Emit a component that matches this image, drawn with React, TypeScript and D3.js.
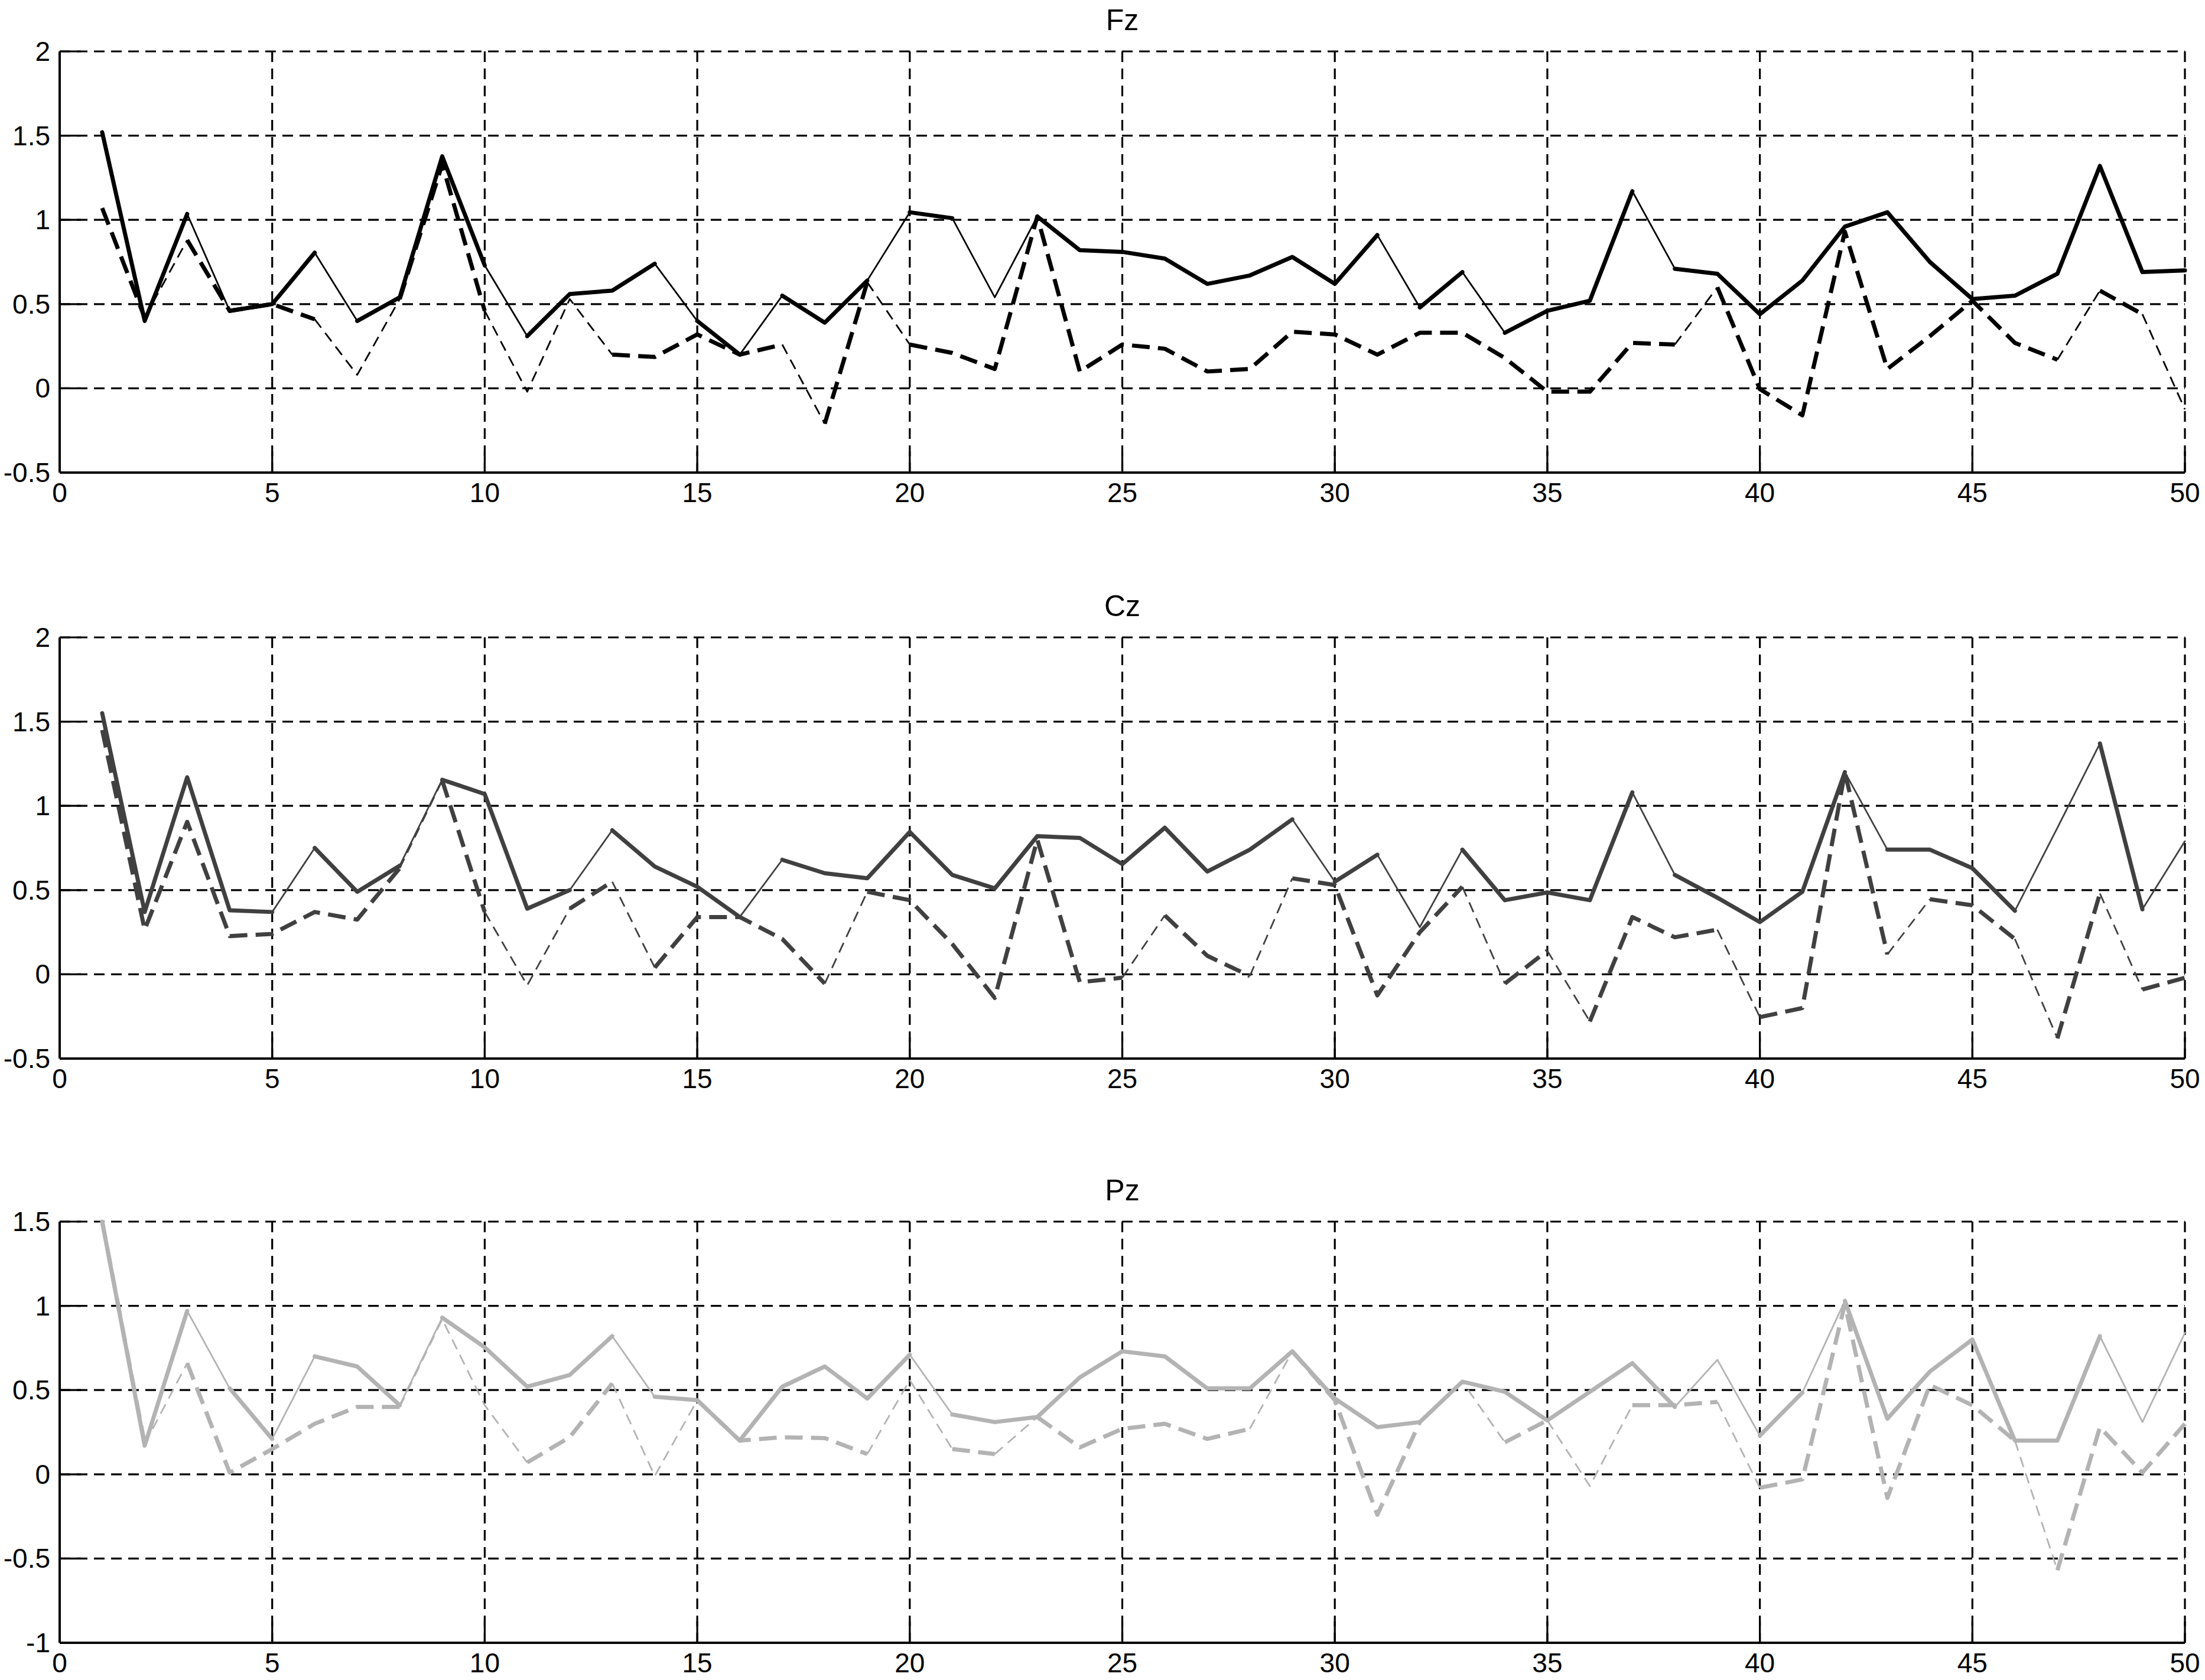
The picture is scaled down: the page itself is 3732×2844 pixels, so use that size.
import React from "react";
import * as d3 from "d3";

// trial numbers on the x axis
const trials = [
  1, 2, 3, 4, 5, 6, 7, 8, 9, 10, 11, 12, 13, 14, 15, 16, 17, 18, 19, 20, 21, 22, 23, 24, 25,
  26, 27, 28, 29, 30, 31, 32, 33, 34, 35, 36, 37, 38, 39, 40, 41, 42, 43, 44, 45, 46, 47, 48, 49, 50,
];

const xTicks = [0, 5, 10, 15, 20, 25, 30, 35, 40, 45, 50];
const yTicksFC = [-0.5, 0, 0.5, 1, 1.5, 2];
const yTicksP = [-1, -0.5, 0, 0.5, 1, 1.5];

// Fz
const fzSolid = [
  1.52, 0.4, 1.035, 0.46, 0.5, 0.805, 0.4, 0.54, 1.377, 0.73, 0.31, 0.56, 0.58, 0.74, 0.4, 0.2, 0.55,
  0.39, 0.64, 1.045, 1.01, 0.54, 1.02, 0.82, 0.81, 0.77, 0.62, 0.67, 0.78, 0.62, 0.91, 0.48, 0.69,
  0.33, 0.46, 0.52, 1.17, 0.71, 0.68, 0.44, 0.64, 0.96, 1.045, 0.75, 0.53, 0.55, 0.68, 1.32, 0.69, 0.7,
];
// significance of each segment (1 = drawn bold)
const fzSolidSig = [
  1, 1, 0, 1, 1, 0, 1, 1, 1, 0, 1, 1, 1, 0, 1, 0, 1, 1, 0, 1, 0, 0, 1, 1, 1, 1, 1, 1, 1, 1, 0, 1, 0,
  1, 1, 1, 0, 1, 1, 1, 1, 1, 1, 1, 1, 1, 1, 1, 1,
];
const fzDashed = [
  1.07, 0.42, 0.88, 0.46, 0.5, 0.41, 0.08, 0.53, 1.33, 0.46, -0.02, 0.53, 0.2, 0.186, 0.32, 0.2, 0.26,
  -0.21, 0.63, 0.26, 0.21, 0.115, 1.02, 0.1, 0.26, 0.235, 0.1, 0.115, 0.336, 0.32, 0.2, 0.33, 0.33,
  0.18, -0.02, -0.02, 0.27, 0.26, 0.6, -0.005, -0.16, 0.93, 0.115, 0.31, 0.52, 0.27, 0.17, 0.58, 0.44,
  -0.125,
];
const fzDashedSig = [
  1, 0, 1, 1, 1, 0, 0, 1, 1, 0, 0, 0, 1, 1, 1, 1, 0, 1, 0, 1, 1, 1, 1, 1, 1, 1, 1, 1, 1, 1, 1, 1, 1,
  1, 1, 1, 1, 0, 1, 1, 1, 1, 1, 1, 1, 1, 0, 1, 0,
];

// Cz
const czSolid = [
  1.55, 0.37, 1.17, 0.38, 0.37, 0.75, 0.49, 0.645, 1.155, 1.07, 0.39, 0.5, 0.855, 0.64, 0.52, 0.34,
  0.68, 0.6, 0.57, 0.845, 0.59, 0.51, 0.82, 0.81, 0.654, 0.87, 0.61, 0.74, 0.92, 0.55, 0.71, 0.28,
  0.74, 0.44, 0.486, 0.44, 1.08, 0.59, 0.455, 0.31, 0.49, 1.2, 0.74, 0.74, 0.63, 0.377, 0.87, 1.37,
  0.386, 0.79,
];
const czSolidSig = [
  1, 1, 1, 1, 0, 1, 1, 0, 1, 1, 1, 0, 1, 1, 1, 0, 1, 1, 1, 1, 1, 1, 1, 1, 1, 1, 1, 1, 0, 1, 0, 0, 1,
  1, 1, 1, 0, 1, 1, 1, 1, 0, 1, 1, 1, 0, 0, 1, 0,
];
const czDashed = [
  1.45, 0.265, 0.905, 0.227, 0.24, 0.37, 0.325, 0.63, 1.15, 0.37, -0.065, 0.39, 0.55, 0.04, 0.34,
  0.34, 0.21, -0.055, 0.49, 0.44, 0.18, -0.14, 0.8, -0.047, -0.02, 0.35, 0.11, -0.01, 0.57, 0.53,
  -0.125, 0.25, 0.52, -0.055, 0.14, -0.28, 0.34, 0.22, 0.265, -0.254, -0.2, 1.2, 0.118, 0.446, 0.41,
  0.21, -0.38, 0.48, -0.09, -0.02,
];
const czDashedSig = [
  1, 1, 1, 1, 1, 1, 1, 0, 1, 0, 0, 1, 0, 1, 1, 1, 1, 0, 1, 1, 1, 1, 1, 1, 0, 1, 1, 0, 1, 1, 1, 1, 0,
  1, 0, 1, 1, 1, 0, 1, 1, 1, 0, 1, 1, 0, 1, 0, 1,
];

// Pz
const pzSolid = [
  1.5, 0.17, 0.97, 0.51, 0.21, 0.7, 0.64, 0.41, 0.93, 0.754, 0.52, 0.59, 0.82, 0.46, 0.44, 0.2, 0.52,
  0.64, 0.45, 0.71, 0.355, 0.31, 0.34, 0.575, 0.73, 0.7, 0.51, 0.51, 0.73, 0.45, 0.28, 0.31, 0.55,
  0.49, 0.32, 0.49, 0.66, 0.4, 0.68, 0.23, 0.485, 1.03, 0.33, 0.61, 0.8, 0.2, 0.2, 0.82, 0.31, 0.84,
];
const pzSolidSig = [
  1, 1, 0, 1, 0, 1, 1, 0, 1, 1, 1, 1, 0, 1, 1, 1, 1, 1, 1, 0, 1, 1, 1, 1, 1, 1, 1, 1, 1, 1, 1, 1, 1,
  1, 1, 1, 1, 0, 0, 1, 0, 1, 1, 1, 1, 1, 1, 0, 0,
];
const pzDashed = [
  1.5, 0.18, 0.66, 0.01, 0.15, 0.3, 0.4, 0.4, 0.92, 0.41, 0.07, 0.22, 0.54, -0.01, 0.44, 0.2, 0.22,
  0.215, 0.12, 0.56, 0.15, 0.12, 0.34, 0.16, 0.27, 0.3, 0.21, 0.27, 0.73, 0.44, -0.24, 0.31, 0.55,
  0.19, 0.32, -0.07, 0.41, 0.41, 0.43, -0.08, -0.03, 1.01, -0.14, 0.53, 0.41, 0.2, -0.57, 0.28, 0.01,
  0.3,
];
const pzDashedSig = [
  1, 0, 1, 1, 1, 1, 1, 0, 0, 0, 1, 1, 0, 0, 1, 1, 1, 1, 0, 0, 1, 0, 1, 1, 1, 1, 1, 0, 1, 1, 1, 0, 0,
  1, 0, 0, 1, 1, 0, 1, 1, 1, 1, 1, 1, 0, 1, 1, 1,
];

const W = 3732;
const H = 2844;
const plotLeft = 101;
const plotRight = 3698;
const plotH = 713;
const font = "'Liberation Sans', Arial, sans-serif";
const fontSize = 46;
const titleSize = 50;
const tickLen = 36;
const thin = 2.8;
const thick = 7;

const panels = [
  { title: "Fz", top: 87, domain: [-0.5, 2], yTicks: yTicksFC, color: "#000000",
    solid: fzSolid, solidSig: fzSolidSig, dashed: fzDashed, dashedSig: fzDashedSig },
  { title: "Cz", top: 1079, domain: [-0.5, 2], yTicks: yTicksFC, color: "#404040",
    solid: czSolid, solidSig: czSolidSig, dashed: czDashed, dashedSig: czDashedSig },
  { title: "Pz", top: 2068, domain: [-1, 1.5], yTicks: yTicksP, color: "#b3b3b3",
    solid: pzSolid, solidSig: pzSolidSig, dashed: pzDashed, dashedSig: pzDashedSig },
];

// split a line into runs of consecutive segments sharing the same weight
function runs(sig: number[]) {
  const out: { bold: boolean; from: number; to: number }[] = [];
  let start = 0;
  for (let i = 1; i <= sig.length; i++) {
    if (i === sig.length || sig[i] !== sig[start]) {
      out.push({ bold: sig[start] === 1, from: start, to: i });
      start = i;
    }
  }
  return out;
}

function Panel({ p }: { p: (typeof panels)[number] }) {
  const x = d3.scaleLinear().domain([0, 50]).range([plotLeft, plotRight]);
  const y = d3.scaleLinear().domain(p.domain).range([p.top + plotH, p.top]);
  const bottom = p.top + plotH;

  const drawSeries = (values: number[], sig: number[], dashed: boolean) =>
    runs(sig).map((r, k) => {
      const pts = values.map((v, i) => ({ v, i })).filter((d) => d.i >= r.from && d.i <= r.to);
      const path = d3
        .line<{ v: number; i: number }>()
        .x((d) => x(trials[d.i]))
        .y((d) => y(d.v))(pts);
      return (
        <path
          key={k}
          d={path || ""}
          fill="none"
          stroke={p.color}
          strokeWidth={r.bold ? thick : thin}
          strokeLinejoin="round"
          strokeLinecap={dashed ? "butt" : "round"}
          strokeDasharray={dashed ? (r.bold ? "30,14" : "18,11") : undefined}
        />
      );
    });

  return (
    <g>
      {/* grid */}
      {xTicks.slice(1).map((t) => (
        <line key={"gx" + t} x1={x(t)} x2={x(t)} y1={p.top} y2={bottom}
          stroke="#000" strokeWidth={3.2} strokeDasharray="18,11" />
      ))}
      {p.yTicks.slice(1).map((t) => (
        <line key={"gy" + t} x1={plotLeft} x2={plotRight} y1={y(t)} y2={y(t)}
          stroke="#000" strokeWidth={3.2} strokeDasharray="18,11" />
      ))}

      {/* ticks */}
      {xTicks.map((t) => (
        <line key={"tx" + t} x1={x(t)} x2={x(t)} y1={bottom} y2={bottom - tickLen}
          stroke="#000" strokeWidth={3.2} />
      ))}
      {p.yTicks.map((t) => (
        <line key={"ty" + t} x1={plotLeft} x2={plotLeft + tickLen} y1={y(t)} y2={y(t)}
          stroke="#000" strokeWidth={3.2} />
      ))}

      {/* axes */}
      <line x1={plotLeft} x2={plotLeft} y1={p.top} y2={bottom} stroke="#000" strokeWidth={4} />
      <line x1={plotLeft} x2={plotRight} y1={bottom} y2={bottom} stroke="#000" strokeWidth={4} />

      {/* data */}
      {drawSeries(p.dashed, p.dashedSig, true)}
      {drawSeries(p.solid, p.solidSig, false)}

      {/* labels */}
      {xTicks.map((t) => (
        <text key={"lx" + t} x={x(t)} y={bottom + 50} textAnchor="middle"
          fontFamily={font} fontSize={fontSize} fill="#000">
          {t}
        </text>
      ))}
      {p.yTicks.map((t) => (
        <text key={"ly" + t} x={plotLeft - 16} y={y(t) + 16} textAnchor="end"
          fontFamily={font} fontSize={fontSize} fill="#000">
          {String(t)}
        </text>
      ))}
      <text x={(plotLeft + plotRight) / 2} y={p.top - 36} textAnchor="middle"
        fontFamily={font} fontSize={titleSize} fill="#000">
        {p.title}
      </text>
    </g>
  );
}

export default function App() {
  return (
    <svg
      width={W}
      height={H}
      viewBox={`0 0 ${W} ${H}`}
      style={{ position: "absolute", left: 0, top: 0, background: "#fff", display: "block" }}
    >
      <rect width={W} height={H} fill="#fff" />
      {panels.map((p) => (
        <Panel key={p.title} p={p} />
      ))}
    </svg>
  );
}
